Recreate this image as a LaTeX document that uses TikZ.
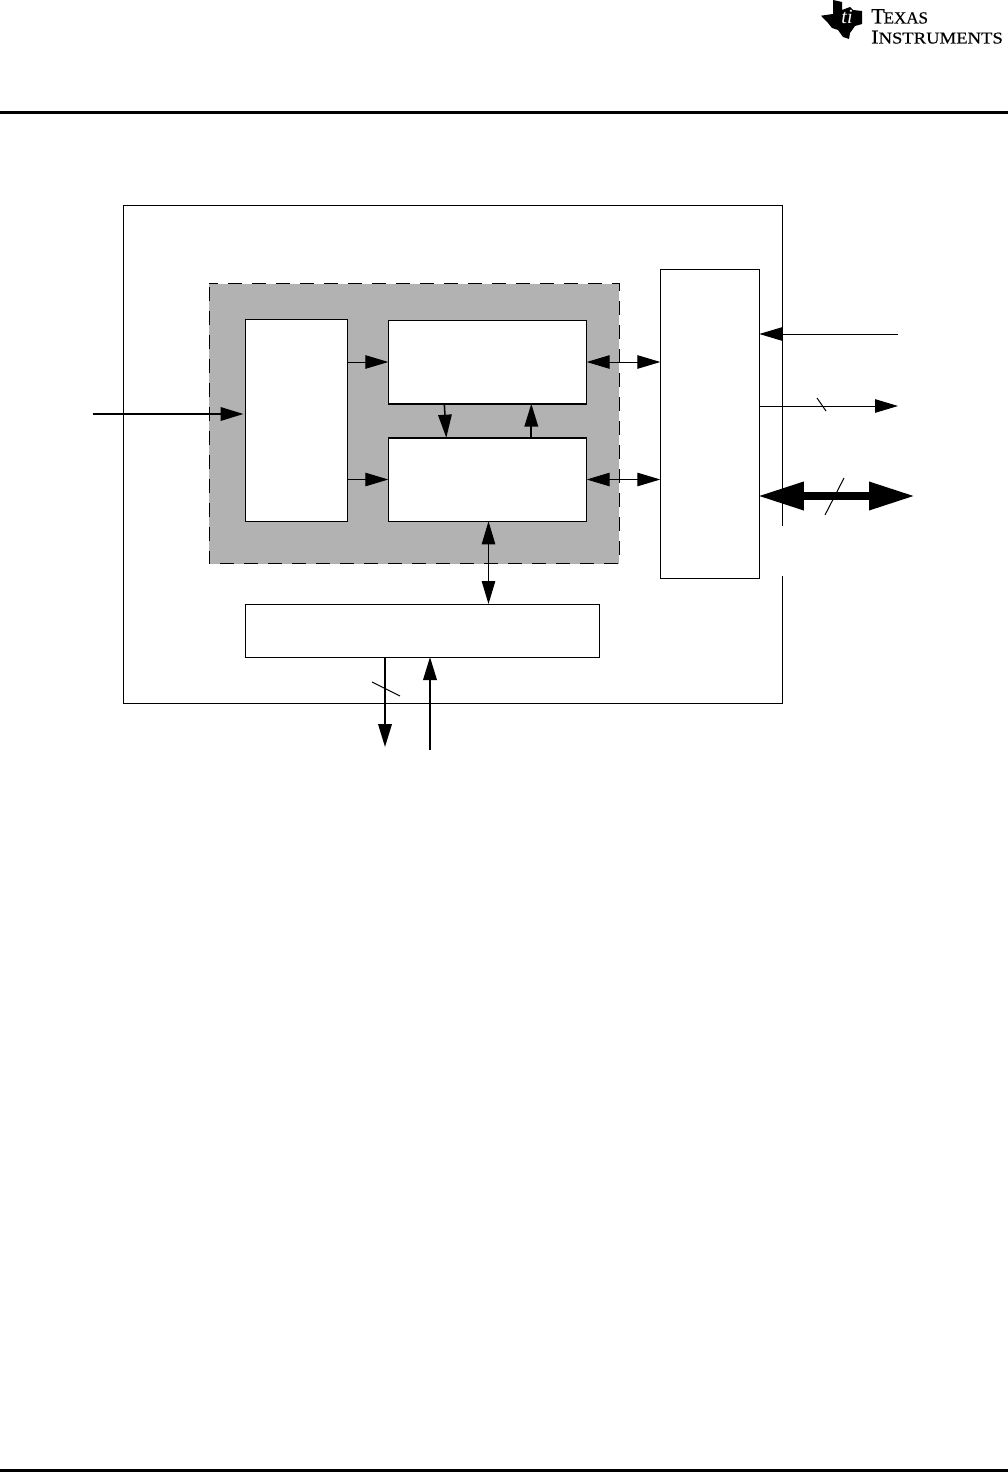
\documentclass[tikz,border=0pt]{standalone}
\usepackage{xcolor}
\usepackage{tikz}
\usepackage{fontspec}
\usetikzlibrary{arrows.meta,positioning,calc}
\definecolor{corebg}{HTML}{B2B2B2}
\newfontfamily\logofont[FakeBold=0.4]{Liberation Serif}
\newfontfamily\logowide[FakeStretch=1.13,FakeBold=0.4]{Liberation Serif}
\newfontfamily\logomarkfont{Liberation Serif}

\tikzset{
  blockbox/.style={draw,fill=white,line width=1pt,anchor=north west,inner sep=0pt,outer sep=0pt},
  sigline/.style={line width=1pt,-{Triangle[length=23pt,width=13.5pt]}},
  sigboth/.style={line width=1pt,{Triangle[length=23pt,width=13.5pt]}-{Triangle[length=23pt,width=13.5pt]}},
  sigbold/.style={line width=2pt,-{Triangle[length=23pt,width=13.5pt]}},
  busboth/.style={line width=8pt,shorten >=-2pt,shorten <=-1.5pt,{Triangle[length=46pt,width=26.5pt]}-{Triangle[length=46pt,width=26.5pt]}},
  slashmark/.style={line width=1pt}
}

\begin{document}
\begin{tikzpicture}[x=1pt,y=-1pt]
  \useasboundingbox (0,0) rectangle (1008,1472);

  % Page rules
  \fill (0,111) rectangle (1008,114);
  \fill (0,1468.7) rectangle (1008,1472);

  % Logo
  \fill (821,15.7) -- (833,14) -- (833,0) -- (842,2) -- (842,10) -- (850,7) -- (853,10) -- (862,11)
    -- (862,24) -- (855,26) -- (850,33) -- (849,39) -- (843,37) -- (838,30) -- (832,28) -- (828,23) -- (825,20) -- cycle;
  \node[font=\logomarkfont\fontsize{20}{20}\selectfont\itshape,text=white,inner sep=0pt] (logomark) at (847,17) {ti};
  \node[anchor=base west,inner sep=0pt] (logotop) at (871,23.5)
    {\logofont\fontsize{22}{22}\selectfont T\kern-1pt\fontsize{17}{17}\selectfont EXAS};
  \node[anchor=base west,inner sep=0pt] (logobot) at (871,43.5)
    {\logowide\fontsize{19.5}{19.5}\selectfont I\fontsize{16.5}{16.5}\selectfont NSTRUMENTS};

  % Outer frame, open on the right
  \draw[line width=1pt] (782.3,525.7) -- (782.3,205.6) -- (123.3,205.6) -- (123.3,703) -- (782.3,703) -- (782.3,576);

  % Shaded core
  \node[blockbox,draw=none,fill=corebg,minimum width=410pt,minimum height=280pt] (corearea) at (209.3,283.5) {};
  \draw[line width=1pt,dash pattern=on 14pt off 10pt,dash phase=-3pt] (corearea.north west) rectangle (corearea.south east);

  % Blocks
  \node[blockbox,minimum width=102pt,minimum height=201.5pt] (leftbox) at (245.5,319.5) {};
  \node[blockbox,minimum width=198.4pt,minimum height=83.4pt] (topbox) at (388.3,320.3) {};
  \node[blockbox,minimum width=198.4pt,minimum height=83.6pt] (lowerbox) at (388.3,437.7) {};
  \node[blockbox,minimum width=99pt,minimum height=309pt] (rightbox) at (660.3,269.3) {};
  \node[blockbox,minimum width=354pt,minimum height=53pt] (bottombox) at (245.5,604) {};

  % Heavier edges between the two blocks
  \draw[line width=2pt] (topbox.south west) -- (topbox.south east);
  \draw[line width=2pt] (lowerbox.north west) -- (lowerbox.north east);

  % Free ends
  \coordinate (leftin) at (92.7,414);
  \coordinate (rightin) at (898,334);
  \coordinate (rightout) at (898,406);
  \coordinate (busend) at (913,496);
  \coordinate (downend) at (385,747);
  \coordinate (upstart) at (430,750);

  % Connectors
  \draw[sigbold,shorten >=2pt] (leftin) -- (leftin -| leftbox.west);
  \draw[sigline] (leftbox.east |- topbox.west) -- (topbox.west);
  \draw[sigline] (leftbox.east |- lowerbox.west) -- (lowerbox.west);
  \foreach \src in {topbox,lowerbox} {
    \draw[sigboth] (\src.east) -- (\src.east -| rightbox.west);
  }
  \draw[sigline,line width=1.5pt] ($(topbox.south west)+(56,0)$) -- ($(lowerbox.north west)+(58,0)$);
  \draw[sigbold] ($(lowerbox.north west)+(143,0)$) -- ($(topbox.south west)+(143,0)$);
  \draw[sigboth] ($(lowerbox.south)+(1,0)$) -- ($(lowerbox.south |- bottombox.north)+(1,0)$);
  \draw[sigline] (rightin) -- (rightin -| rightbox.east);
  \draw[sigline] (rightout -| rightbox.east) -- (rightout);
  \draw[busboth] (busend -| rightbox.east) -- (busend);
  \draw[sigbold] (downend |- bottombox.south) -- (downend);
  \draw[sigbold] (upstart) -- (upstart |- bottombox.south);

  % Bus slashes
  \draw[slashmark] (817,398) -- (826,411);
  \draw[slashmark] (825,515) -- (844,478);
  \draw[slashmark] (372,682) -- (400,696);
\end{tikzpicture}
\end{document}
